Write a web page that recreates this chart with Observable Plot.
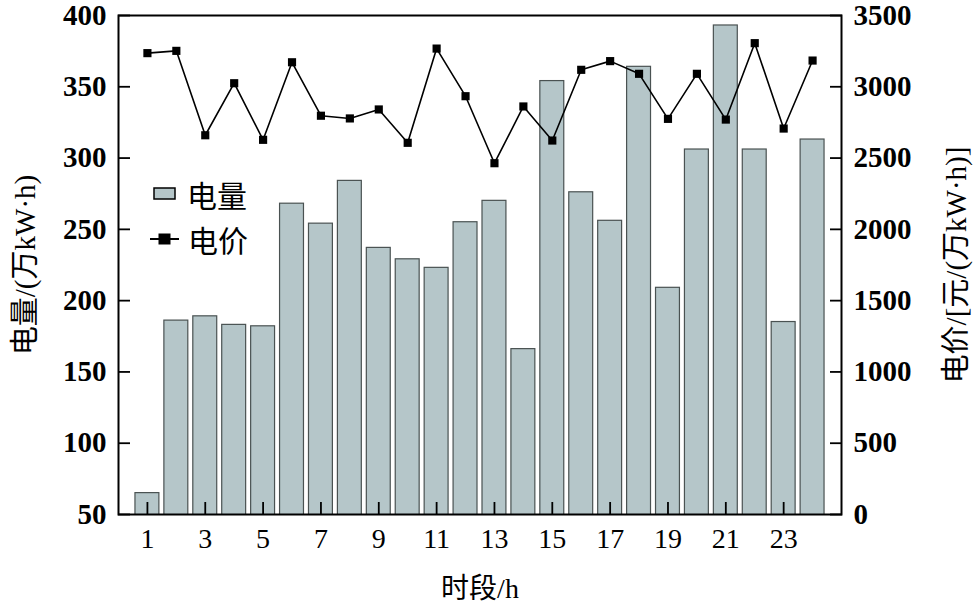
<!DOCTYPE html>
<html>
<head>
<meta charset="utf-8">
<script src="https://cdn.jsdelivr.net/npm/d3@7"></script>
<script src="https://cdn.jsdelivr.net/npm/@observablehq/plot@0.6"></script>
<style>
  html, body { margin: 0; padding: 0; background: #fff; }
  #wrap { position: relative; width: 977px; height: 609px; }
  .legend { position: absolute; font-family: "Liberation Serif", "Noto Sans CJK SC", serif; font-size: 30px; color: #000; display: flex; align-items: center; }
  .legend svg { margin-right: 10px; }
</style>
</head>
<body>
<div id="wrap"></div>
<script>
const hours  = [1,2,3,4,5,6,7,8,9,10,11,12,13,14,15,16,17,18,19,20,21,22,23,24];
const energy = [65,186,189,183,182,268,254,284,237,229,223,255,270,166,354,276,256,364,209,306,393,306,185,313];
const price  = [3236,3252,2660,3025,2628,3172,2797,2778,2841,2607,3268,2934,2464,2862,2623,3119,3180,3091,2775,3091,2770,3306,2707,3184];
const xTicks = [1,3,5,7,9,11,13,15,17,19,21,23];
const leftTicks = [50,100,150,200,250,300,350,400];
const rightTicks = [0,500,1000,1500,2000,2500,3000,3500];
const xTitle = "时段/h";
const leftTitle = "电量/(万kW·h)";
const rightTitle = "电价/[元/(万kW·h)]";
const legendLabels = ["电量", "电价"];

const data = hours.map((h, i) => ({h, e: energy[i], p: price[i]}));
// right axis (price) mapped onto the left scale: 0..3500 -> 50..400
const toLeft = p => 50 + p * (350 / 3500);

const FONT = '"Liberation Serif", "Noto Sans CJK SC", serif';
const barFill = "#b5c6c9";

const chart = Plot.plot({
  width: 977,
  height: 609,
  marginLeft: 118,
  marginRight: 136,
  marginTop: 15,
  marginBottom: 95,
  style: {fontFamily: FONT, fontSize: "28px", color: "#000", background: "#fff"},
  x: {domain: [0, 25], label: null},
  y: {domain: [50, 400], label: null},
  marks: [
    Plot.rectY(data, {
      x1: d => d.h - 0.5, x2: d => d.h + 0.5, y: "e",
      insetLeft: 2.5, insetRight: 2.5,
      fill: barFill, stroke: "#4a5252", strokeWidth: 1.2, clip: true
    }),
    Plot.line(data, {x: "h", y: d => toLeft(d.p), stroke: "#000", strokeWidth: 1.6}),
    Plot.dot(data, {x: "h", y: d => toLeft(d.p), symbol: "square", r: 4.6, fill: "#000", stroke: "none"}),
    Plot.axisX({
      anchor: "bottom", ticks: xTicks, tickSize: -12, tickPadding: 26, strokeWidth: 1.8,
      tickFormat: d => String(d), fontSize: 28,
      label: xTitle, labelAnchor: "center", labelOffset: 83, labelArrow: "none"
    }),
    Plot.axisY({
      anchor: "left", ticks: leftTicks, tickSize: -12, tickPadding: 24, strokeWidth: 1.8,
      tickFormat: d => String(d), fontSize: 29, fontWeight: "bold",
      label: leftTitle, labelAnchor: "center", labelOffset: 104, labelArrow: "none"
    }),
    Plot.axisY({
      anchor: "right", ticks: rightTicks.map(toLeft), tickSize: -12, tickPadding: 24, strokeWidth: 1.8,
      tickFormat: (d, i) => String(rightTicks[i]), fontSize: 29, fontWeight: "bold",
      label: rightTitle, labelAnchor: "center", labelOffset: 124, labelArrow: "none"
    }),
    Plot.frame({stroke: "#000", strokeWidth: 2})
  ]
});

const wrap = document.getElementById("wrap");
wrap.appendChild(chart);
// axis titles stay regular weight
chart.querySelectorAll('g[aria-label$="label"]:not([aria-label$="tick label"])').forEach(g => g.setAttribute("font-weight", "normal"));

// legend (inside plot area)
const l1 = document.createElement("div");
l1.className = "legend";
l1.style.left = "153px"; l1.style.top = "172px";
l1.innerHTML = `<svg width="24" height="14"><rect x="1" y="1" width="21" height="11" fill="${barFill}" stroke="#000" stroke-width="1.5"/></svg><span>${legendLabels[0]}</span>`;
wrap.appendChild(l1);
const l2 = document.createElement("div");
l2.className = "legend";
l2.style.left = "150px"; l2.style.top = "217px";
l2.innerHTML = `<svg width="30" height="14"><line x1="0" y1="7" x2="29" y2="7" stroke="#000" stroke-width="2"/><rect x="8.5" y="1.5" width="12" height="11" fill="#000"/></svg><span>${legendLabels[1]}</span>`;
l2.querySelector("svg").style.marginRight = "8px";
wrap.appendChild(l2);
</script>
</body>
</html>
